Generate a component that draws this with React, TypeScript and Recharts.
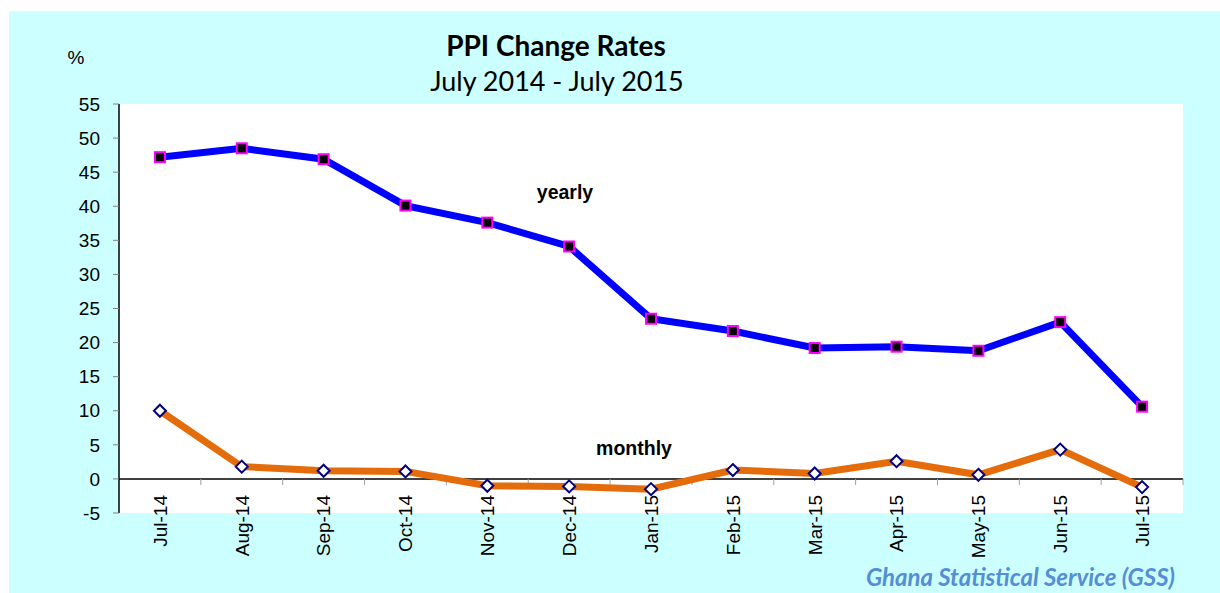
import { LineChart, Line, XAxis, YAxis, CartesianGrid, ReferenceLine } from 'recharts'

const months = ['Jul-14', 'Aug-14', 'Sep-14', 'Oct-14', 'Nov-14', 'Dec-14', 'Jan-15', 'Feb-15', 'Mar-15', 'Apr-15', 'May-15', 'Jun-15', 'Jul-15']
const yearly = [47.2, 48.5, 46.9, 40.1, 37.6, 34.1, 23.5, 21.7, 19.2, 19.4, 18.8, 23.0, 10.6]
const monthly = [10.0, 1.8, 1.2, 1.1, -1.0, -1.1, -1.5, 1.3, 0.8, 2.6, 0.6, 4.3, -1.2]
const yTicks = [-5, 0, 5, 10, 15, 20, 25, 30, 35, 40, 45, 50, 55]

const data = months.map((m, i) => ({ month: m, yearly: yearly[i], monthly: monthly[i] }))

const ARIAL = '"Liberation Sans", Arial, sans-serif'
const CALIBRI = 'Lato, "Open Sans", sans-serif'

const MonthTick = (props: any) => {
  const { x, y, payload } = props
  return (
    <g transform={`translate(${x},${y})`}>
      <text transform="rotate(-90)" x={18} y={0} dy="0.36em" textAnchor="end" fontSize={19} fontFamily={ARIAL} fill="#000">
        {payload.value}
      </text>
    </g>
  )
}

const SquareDot = (props: any) => {
  const { cx, cy, index } = props
  return <rect key={`sq-${index}`} x={cx - 5} y={cy - 5} width={10} height={10} fill="#000" stroke="#FF00FF" strokeWidth={2} />
}

const DiamondDot = (props: any) => {
  const { cx, cy, index } = props
  return (
    <path
      key={`dm-${index}`}
      d={`M${cx},${cy - 6} L${cx + 6},${cy} L${cx},${cy + 6} L${cx - 6},${cy} Z`}
      fill="#fff"
      stroke="#000080"
      strokeWidth={2}
    />
  )
}

export default function App() {
  return (
    <div style={{ position: 'absolute', left: 0, top: 0, width: 1220, height: 593, background: '#fff', overflow: 'hidden' }}>
      <div style={{ position: 'absolute', left: 9, top: 11, width: 1211, height: 582, background: '#CCFFFF' }} />
      <div style={{ position: 'absolute', left: 0, top: 0 }}>
        <LineChart width={1220} height={593} data={data} margin={{ top: 104, right: 37, bottom: 0, left: 0 }}>
          <CartesianGrid horizontal={false} vertical={false} fill="#fff" fillOpacity={1} stroke="none" />
          <XAxis
            dataKey="month"
            scale="band"
            axisLine={false}
            tickLine={false}
            tickSize={0}
            tickMargin={0}
            height={80}
            interval={0}
            tick={<MonthTick />}
          />
          <YAxis
            domain={[-5, 55]}
            ticks={yTicks}
            interval={0}
            width={119}
            tickSize={6}
            tickMargin={13}
            axisLine={{ stroke: '#000', strokeWidth: 1.5 }}
            tickLine={{ stroke: '#808080' }}
            tick={{ fontSize: 19, fontFamily: ARIAL, fill: '#000' }}
          />
          <ReferenceLine y={0} stroke="#000" strokeWidth={1.5} />
          {months.map((m) => (
            <ReferenceLine
              key={`tk-${m}`}
              segment={[{ x: m, y: 0 }, { x: m, y: -0.9 }]}
              position="end"
              stroke="#a0a0a0"
              strokeWidth={1}
            />
          ))}
          <Line dataKey="yearly" stroke="#0000FF" strokeWidth={7} dot={<SquareDot />} activeDot={false} isAnimationActive={false} />
          <Line dataKey="monthly" stroke="#E46C0A" strokeWidth={7} dot={<DiamondDot />} activeDot={false} isAnimationActive={false} />
        </LineChart>
      </div>
      <svg width={1220} height={593} style={{ position: 'absolute', left: 0, top: 0, pointerEvents: 'none' }}>
        <text x={556} y={56} textAnchor="middle" fontFamily={CALIBRI} fontWeight="bold" fontSize={28} fill="#000">PPI Change Rates</text>
        <text x={557} y={91} textAnchor="middle" fontFamily={CALIBRI} fontSize={27} fill="#000">July 2014 - July 2015</text>
        <text x={76} y={64} textAnchor="middle" fontFamily={ARIAL} fontSize={19} fill="#000">%</text>
        <text x={565} y={199} textAnchor="middle" fontFamily={ARIAL} fontWeight="bold" fontSize={19.5} fill="#000">yearly</text>
        <text x={634} y={455} textAnchor="middle" fontFamily={ARIAL} fontWeight="bold" fontSize={19.5} fill="#000">monthly</text>
        <text x={1175} y={586} textAnchor="end" fontFamily={CALIBRI} fontWeight="bold" fontStyle="italic" fontSize={24} fill="#558ED5">Ghana Statistical Service (GSS)</text>
      </svg>
    </div>
  )
}
